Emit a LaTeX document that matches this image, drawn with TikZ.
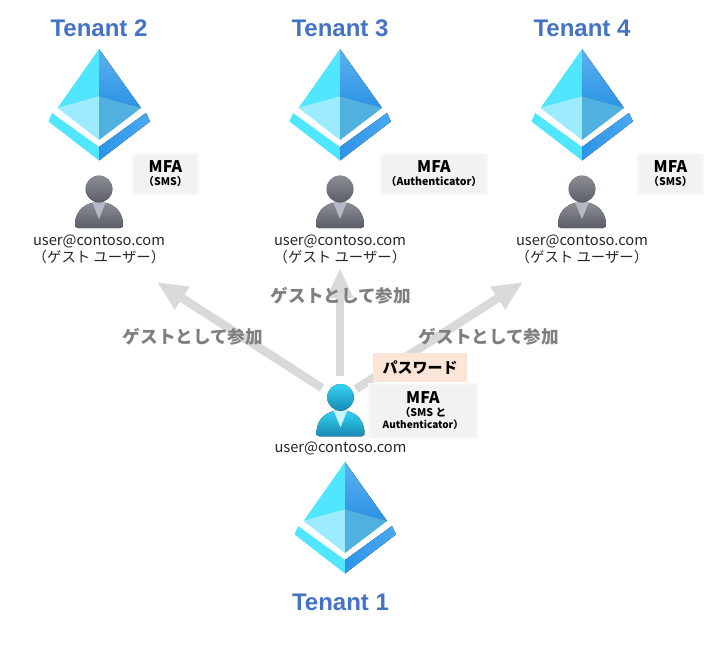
\documentclass[tikz,border=0pt]{standalone}
\usepackage{fontspec}
\setmainfont{Liberation Sans}
\newfontfamily\jpfont{Noto Sans CJK JP}
\usetikzlibrary{arrows.meta}
\definecolor{titleblue}{HTML}{4472C4}
\definecolor{arrowgray}{HTML}{D9D9D9}
\definecolor{labelgray}{HTML}{7F7F7F}
\definecolor{mfagray}{HTML}{F2F2F2}
\definecolor{mfaedge}{HTML}{F7F7F7}
\definecolor{pwdfill}{HTML}{FBE5D6}
\definecolor{pyrleft}{HTML}{50E6FF}
\definecolor{pyrright}{HTML}{5EB0EF}
\definecolor{pyrrightb}{HTML}{2B93E6}
\definecolor{pyrlowleft}{HTML}{9CEBFF}
\definecolor{pyrlowright}{HTML}{50B0E0}
\definecolor{chevronl}{HTML}{2E94E8}
\definecolor{chevronr}{HTML}{4AA8F0}
\definecolor{guesttop}{HTML}{8B8E95}
\definecolor{guestbot}{HTML}{5B5E66}
\definecolor{guestcol}{HTML}{B3B9C6}
\definecolor{maintop}{HTML}{32D4F5}
\definecolor{mainbot}{HTML}{198AB3}
\definecolor{maincol}{HTML}{C8F3FC}
\newcommand{\mfahead}{\fontsize{16}{18}\selectfont MFA\\[1pt]\fontsize{10.6}{15}\selectfont}
\newcommand{\usermail}{{\fontsize{14.7}{17}\selectfont user@contoso.com}}
\tikzset{
  titletext/.style={font=\fontsize{24}{26}\selectfont\bfseries, text=titleblue},
  usertext/.style={font=\jpfont\fontsize{14.4}{17}\selectfont, text=black!85, align=center},
  joinlabel/.style={font=\jpfont\fontsize{17.6}{20}\selectfont\bfseries, text=labelgray},
  mfabox/.style={fill=mfagray, draw=mfaedge, line width=2pt, align=center, inner sep=0pt, font=\jpfont\bfseries},
  pwdbox/.style={fill=pwdfill, inner sep=0pt, font=\jpfont\fontsize{15}{17}\selectfont\bfseries},
  joinarrow/.style={-{Triangle[length=30pt,width=25pt]}, arrowgray, line width=8.5pt},
  pics/tenanticon/.style={code={
    % pyramid
    \fill[pyrleft] (0,0) -- (-41.5,59) -- (0,47.5) -- cycle;
    \fill[top color=pyrright, bottom color=pyrrightb] (0,0) -- (42,59) -- (0,47.5) -- cycle;
    \fill[pyrlowleft] (-41.5,59) -- (0,47.5) -- (0,91) -- cycle;
    \fill[pyrlowright] (42,59) -- (0,47.5) -- (0,91) -- cycle;
    % chevron
    \fill[pyrleft] (-47,64) -- (-50.5,72.5) -- (0,111.5) -- (0,98) -- cycle;
    \fill[left color=chevronl, right color=chevronr] (47,64) -- (51,72.5) -- (0,111.5) -- (0,98) -- cycle;
  }},
  pics/usericon/.style n args={3}{code={
    \fill[top color=#1, bottom color=#2] (-21,39) .. controls (-24,39) and (-24.5,37) .. (-24,34)
      .. controls (-23,20) and (-12,13) .. (0,13)
      .. controls (12,13) and (23,20) .. (24,34)
      .. controls (24.5,37) and (24,39) .. (21,39) -- cycle;
    \fill[#3] (-7,13) -- (7,13) -- (0,30) -- cycle;
    \fill[top color=#1, bottom color=#2] (0,0) circle (13.3);
  }}
}
\begin{document}
\begin{tikzpicture}[x=1pt,y=-1pt]
  \useasboundingbox (0,0) rectangle (720,645);

  % arrows
  \coordinate (startL) at (322,388);
  \coordinate (startM) at (340,376);
  \coordinate (startR) at (356,389);
  \coordinate (endL) at (157,282);
  \coordinate (endM) at (340,268);
  \coordinate (endR) at (523,282);
  \draw[joinarrow] (startL) -- (endL);
  \draw[joinarrow] (startM) -- (endM);
  \draw[joinarrow] (startR) -- (endR);

  \node[joinlabel] (joinL) at (193,337) {ゲストとして参加};
  \node[joinlabel] (joinM) at (341,296) {ゲストとして参加};
  \node[joinlabel] (joinR) at (489,337) {ゲストとして参加};

  % tenants
  \foreach \name/\x/\num in {two/99/2, three/340/3, four/582/4} {
      \node[titletext] (title\name) at (\x,28) {Tenant \num};
      \pic at (\x,49) {tenanticon};
      \pic at (\x,189) {usericon={guesttop}{guestbot}{guestcol}};
      \node[usertext] (guest\name) at (\x,249) {\usermail\\（ゲスト ユーザー）};
    }

  % main tenant
  \pic at (345,462) {tenanticon};
  \pic at (340.5,397.3) {usericon={maintop}{mainbot}{maincol}};
  \node[usertext] (mainuser) at (340.5,448.5) {\usermail};
  \node[titletext] (titleone) at (340.5,602) {Tenant 1};

  % boxes
  \node[mfabox, minimum width=65pt, minimum height=40pt] (mfatwo) at (165.5,174) {\mfahead （SMS）};
  \node[mfabox, minimum width=106pt, minimum height=40pt] (mfathree) at (434,174) {\mfahead （Authenticator）};
  \node[mfabox, minimum width=65pt, minimum height=40pt] (mfafour) at (670.5,174) {\mfahead （SMS）};
  \node[pwdbox, minimum width=94pt, minimum height=29pt] (pwd) at (420,367.5) {パスワード};
  \node[mfabox, minimum width=108pt, minimum height=54pt] (mfamain) at (423,411) {\mfahead （SMS と\\Authenticator）};
\end{tikzpicture}
\end{document}
